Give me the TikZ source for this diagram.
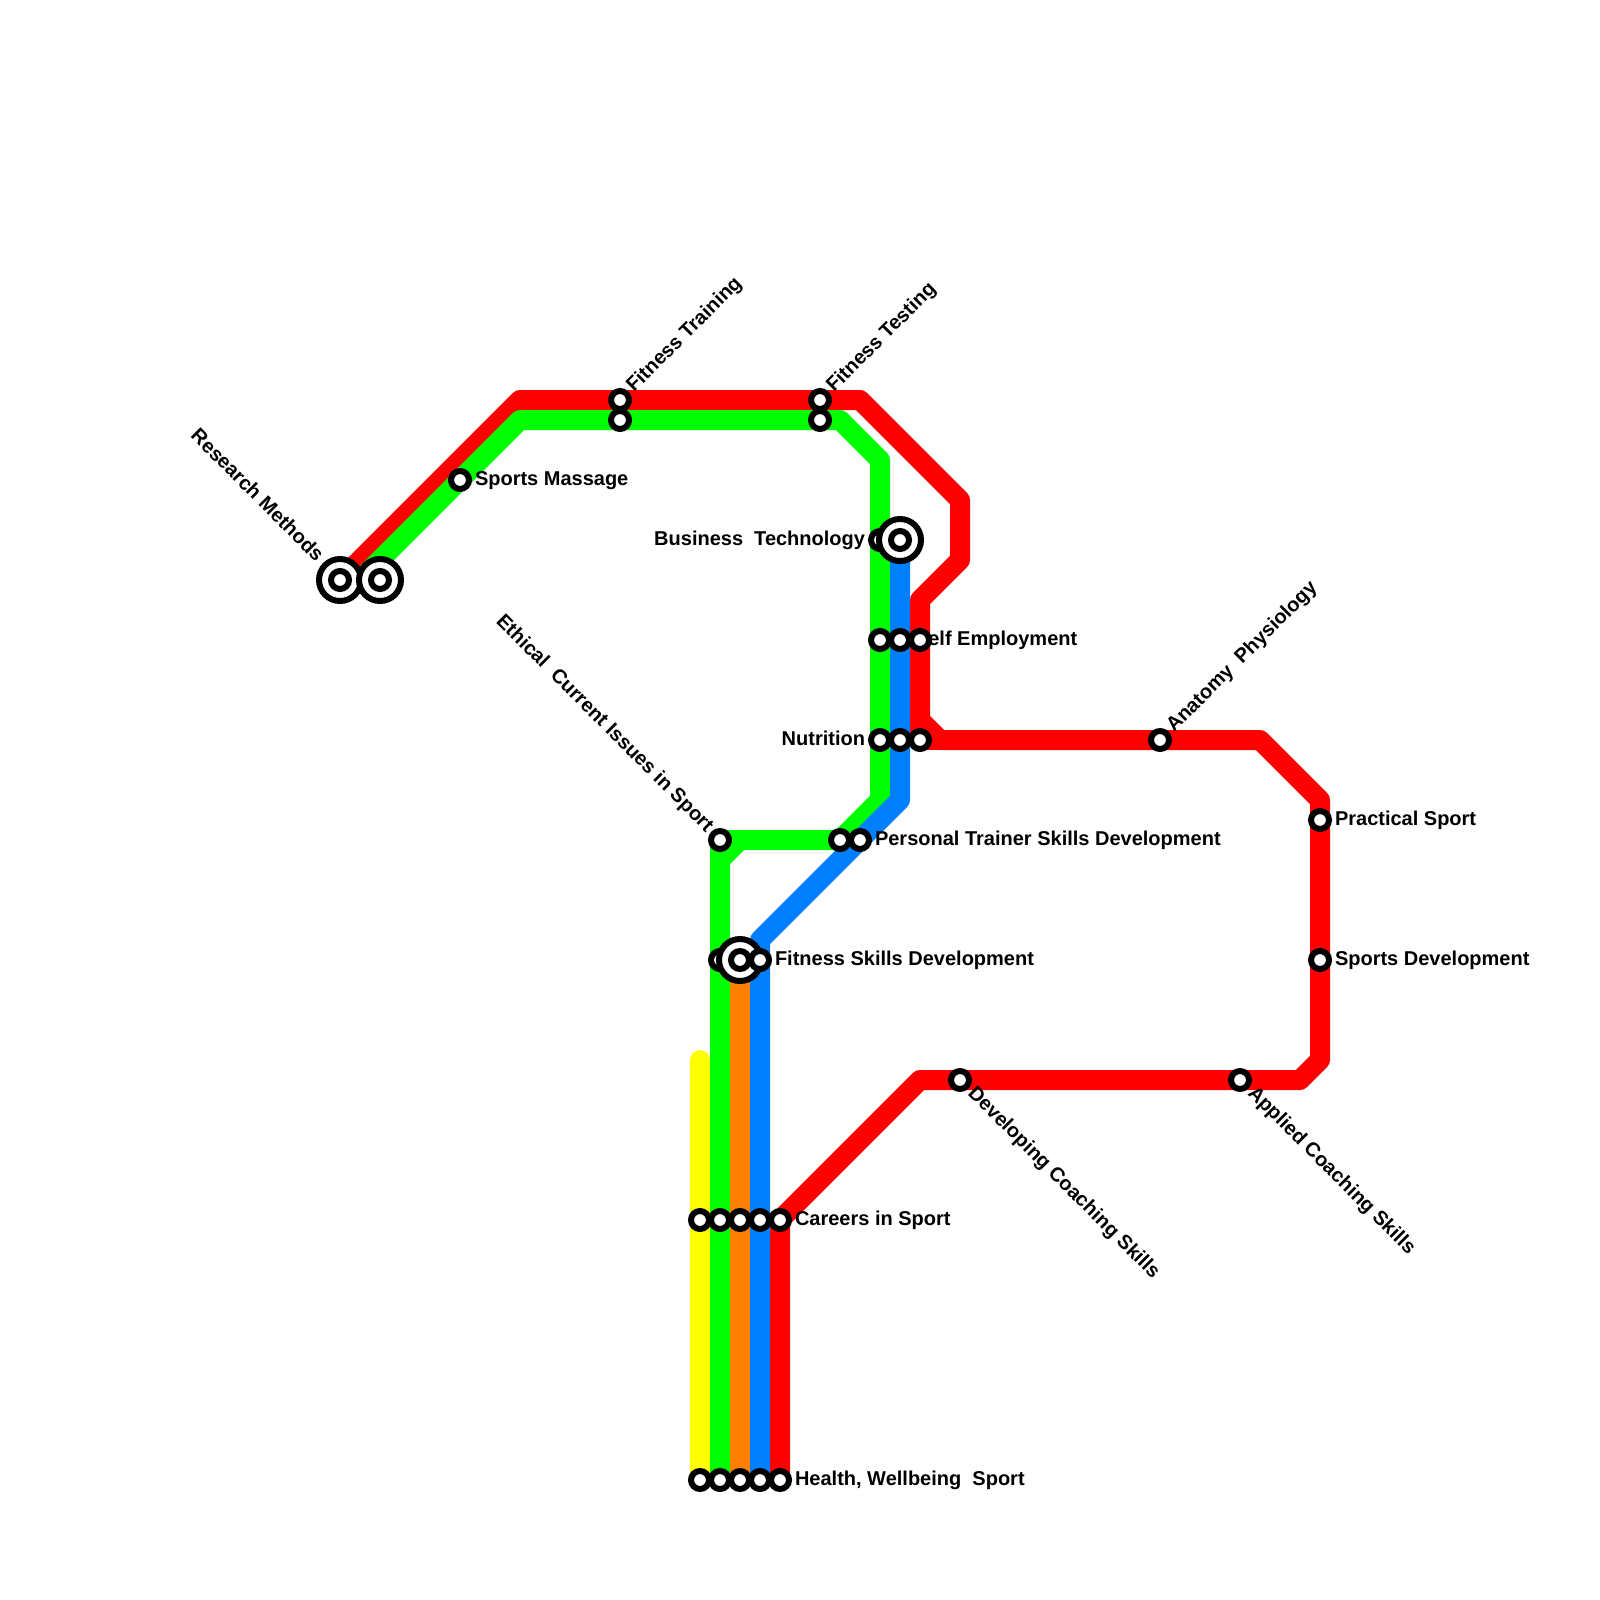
\documentclass[tikz,border=0pt]{standalone}
\usepackage{fontspec}
\setmainfont{Liberation Sans}
\usetikzlibrary{backgrounds}
\definecolor{lred}{HTML}{FF0000}
\definecolor{lgreen}{HTML}{00FF00}
\definecolor{lorange}{HTML}{FF8000}
\definecolor{lblue}{HTML}{0080FF}
\definecolor{lyellow}{HTML}{FFFF00}
\tikzset{
  metro/.style={line width=20pt,line cap=round,line join=round},
  stn/.style={circle,draw=black,fill=white,line width=6pt,minimum size=18pt,inner sep=0pt,outer sep=0pt},
  bigstn/.style={circle,draw=black,fill=white,line width=6pt,minimum size=42pt,inner sep=0pt,outer sep=0pt},
  lab/.style={inner sep=0pt,outer sep=0pt,font=\fontsize{20}{24}\selectfont\bfseries,text=black},
  labr/.style={lab,anchor=base west},
  labl/.style={lab,anchor=base east},
  labne/.style={lab,anchor=base west,rotate=45},
  labse/.style={lab,anchor=base west,rotate=-45},
  labnw/.style={lab,anchor=base east,rotate=-45},
}
\begin{document}
\begin{tikzpicture}[x=1pt,y=-1pt]
\useasboundingbox (0,0) rectangle (1600,1600);
% labels (under the stations)
\node[labnw] (tResearch) at (315.7,562.7) {Research Methods};
\node[labr] (tMassage) at (475,485) {Sports Massage};
\node[labne] (tTraining) at (634.1,392.9) {Fitness Training};
\node[labne] (tTesting) at (834.1,392.9) {Fitness Testing};
\node[labl] (tBusiness) at (865,545) {Business\ \ Technology};
\node[labr] (tSelf) at (915,645) {Self Employment};
\node[labl] (tNutrition) at (865,745) {Nutrition};
\node[labne] (tAnatomy) at (1174.1,732.9) {Anatomy\ \ Physiology};
\node[labr] (tPractical) at (1335,825) {Practical Sport};
\node[labr] (tDevelopment) at (1335,965) {Sports Development};
\node[labr] (tPersonal) at (875,845) {Personal Trainer Skills Development};
\node[labnw] (tEthical) at (705.9,832.9) {Ethical\ \ Current Issues in Sport};
\node[labr] (tSkills) at (775,965) {Fitness Skills Development};
\node[labse] (tDeveloping) at (967.1,1094.1) {Developing Coaching Skills};
\node[labse] (tApplied) at (1247.1,1094.1) {Applied Coaching Skills};
\node[labr] (tCareers) at (795,1225) {Careers in Sport};
\node[labr] (tHealth) at (795,1485) {Health, Wellbeing\ \ Sport};
% stations
\node[bigstn] (rm) at (340,580) {};
\node[stn] (rmi) at (340,580) {};
\node[bigstn] (rg) at (380,580) {};
\node[stn] (rgi) at (380,580) {};
\node[stn] (massage) at (460,480) {};
\node[stn] (trR) at (620,400) {};
\node[stn] (trG) at (620,420) {};
\node[stn] (teR) at (820,400) {};
\node[stn] (teG) at (820,420) {};
\node[stn] (buG) at (880,540) {};
\node[bigstn] (buB) at (900,540) {};
\node[stn] (buBi) at (900,540) {};
\node[stn] (seG) at (880,640) {};
\node[stn] (seB) at (900,640) {};
\node[stn] (seR) at (920,640) {};
\node[stn] (nuG) at (880,740) {};
\node[stn] (nuB) at (900,740) {};
\node[stn] (nuR) at (920,740) {};
\node[stn] (anatomy) at (1160,740) {};
\node[stn] (practical) at (1320,820) {};
\node[stn] (development) at (1320,960) {};
\node[stn] (applied) at (1240,1080) {};
\node[stn] (developing) at (960,1080) {};
\node[stn] (peB) at (860,840) {};
\node[stn] (peG) at (840,840) {};
\node[stn] (ethical) at (720,840) {};
\node[stn] (fiG) at (720,960) {};
\node[bigstn] (fiO) at (740,960) {};
\node[stn] (fiOi) at (740,960) {};
\node[stn] (fiB) at (760,960) {};
\node[stn] (caY) at (700,1220) {};
\node[stn] (caG) at (720,1220) {};
\node[stn] (caO) at (740,1220) {};
\node[stn] (caB) at (760,1220) {};
\node[stn] (caR) at (780,1220) {};
\node[stn] (heY) at (700,1480) {};
\node[stn] (heG) at (720,1480) {};
\node[stn] (heO) at (740,1480) {};
\node[stn] (heB) at (760,1480) {};
\node[stn] (heR) at (780,1480) {};
\coordinate (yellowEnd) at (700,1060);
\coordinate (greenEnd) at (360,580);
% lines
\begin{scope}[on background layer]
\draw[metro,lyellow] (heY.center) -- (yellowEnd);
\draw[metro,lred] (rm.center) -- (520,400) -- (860,400) -- (960,500) -- (960,560) -- (920,600) -- (920,720) -- (940,740) -- (1260,740) -- (1320,800) -- (1320,1060) -- (1300,1080) -- (920,1080) -- (caR.center) -- (heR.center);
\draw[metro,lred] (920,720) -- (nuR.center) -- (940,740);
\draw[metro,lgreen] (heG.center) -- (720,860) -- (740,840) -- (840,840) -- (880,800) -- (880,460) -- (840,420) -- (520,420) -- (greenEnd);
\draw[metro,lgreen] (720,860) -- (ethical.center) -- (740,840);
\draw[metro,lorange] (heO.center) -- (fiO.center);
\draw[metro,lblue] (heB.center) -- (760,940) -- (900,800) -- (buB.center);
\end{scope}
\end{tikzpicture}
\end{document}
